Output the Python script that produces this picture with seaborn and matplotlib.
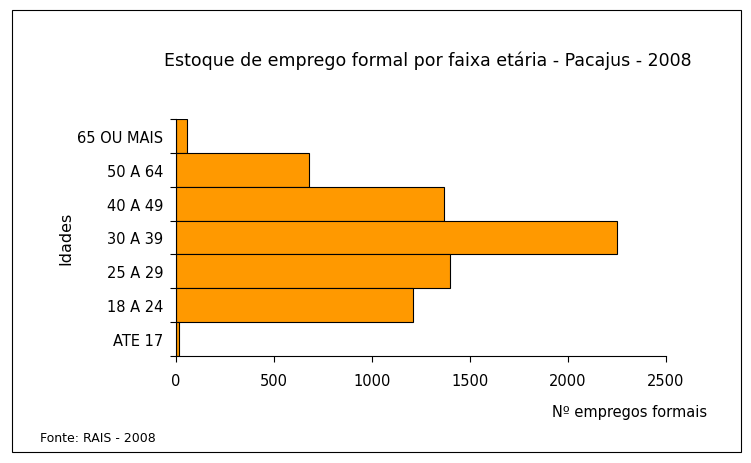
import pandas as pd
import matplotlib.pyplot as plt
import seaborn as sns
from matplotlib.patches import Rectangle

sns.set_style('white')
plt.rcParams['font.family'] = ['DejaVu Sans']
plt.rcParams['text.color'] = 'black'
plt.rcParams['xtick.color'] = 'black'
plt.rcParams['ytick.color'] = 'black'
plt.rcParams['axes.labelcolor'] = 'black'

# Data
faixas = ['65 OU MAIS', '50 A 64', '40 A 49', '30 A 39', '25 A 29', '18 A 24', 'ATE 17']
empregos = [56, 679, 1367, 2250, 1398, 1209, 15]
df = pd.DataFrame({'Faixa': faixas, 'Empregos': empregos})

fig = plt.figure(figsize=(7.51, 4.64), dpi=100)
ax = fig.add_axes([0.2344, 0.2306, 0.6524, 0.5108])

sns.barplot(data=df, x='Empregos', y='Faixa', order=faixas, color='#FF9900',
            width=1.0, edgecolor='black', linewidth=0.8, saturation=1, ax=ax)

ax.set_xlim(0, 2500)
ax.set_ylim(len(faixas) - 0.5, -0.5)
ax.set_xticks([0, 500, 1000, 1500, 2000, 2500])
ax.tick_params(axis='x', length=4, width=0.8, labelsize=10.5, direction='out', bottom=True, pad=8)
ax.tick_params(axis='y', which='major', length=0, labelsize=10.5, pad=9)
ax.set_yticks([i + 0.5 for i in range(-1, len(faixas))], minor=True)
ax.tick_params(axis='y', which='minor', length=4, width=0.8, left=True)

for s in ['top', 'right']:
    ax.spines[s].set_visible(False)
for s in ['left', 'bottom']:
    ax.spines[s].set_color('black')
    ax.spines[s].set_linewidth(0.8)

ax.set_xlabel('')
ax.set_ylabel('')
fig.text(0.088, 0.487, 'Idades', rotation=90, ha='center', va='center', fontsize=11.5)
fig.text(0.838, 0.11, 'Nº empregos formais', ha='center', va='center', fontsize=10.5)
fig.text(0.569, 0.87, 'Estoque de emprego formal por faixa etária - Pacajus - 2008',
         ha='center', va='center', fontsize=12.5)
fig.text(0.053, 0.056, 'Fonte: RAIS - 2008', ha='left', va='center', fontsize=9)

fig.patches.append(Rectangle((0.016, 0.024), 0.971, 0.953, transform=fig.transFigure,
                             fill=False, edgecolor='black', linewidth=0.8))

fig.savefig('out.png', dpi=100)
